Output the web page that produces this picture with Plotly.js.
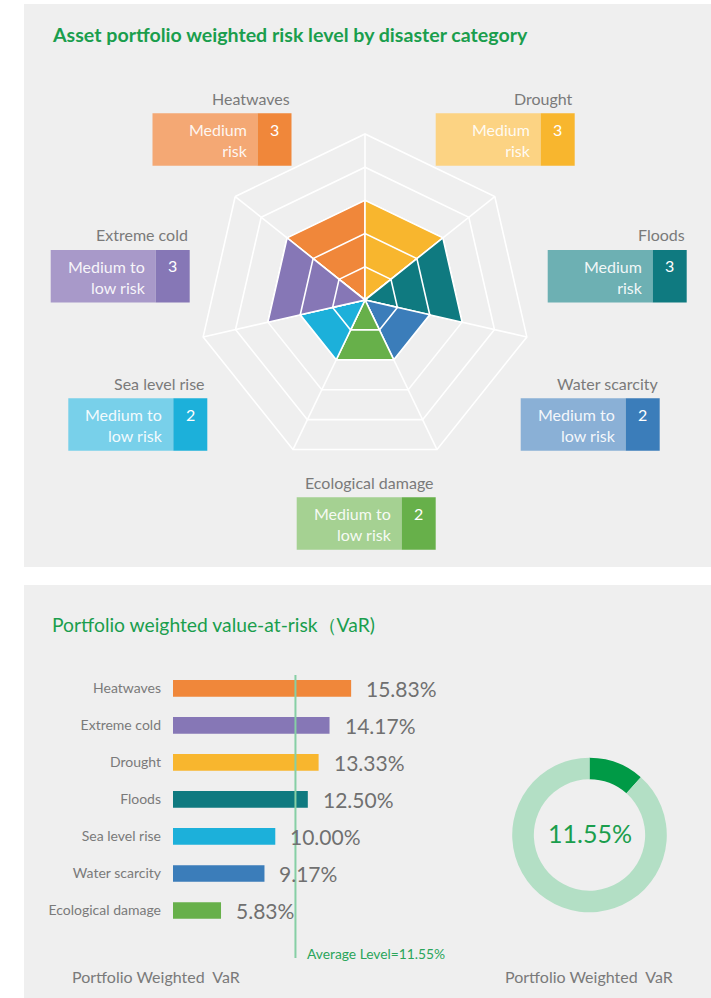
<!DOCTYPE html>
<html><head><meta charset="utf-8">
<script src="https://cdn.plot.ly/plotly-3.0.1.min.js"></script>
<style>html,body{margin:0;padding:0;background:#fff}#chart{width:711px;height:998px}</style>
</head><body><div id="chart"></div>
<script>
// ---------------- data ----------------
const riskCategories = ['Heatwaves','Drought','Floods','Water scarcity','Ecological damage','Sea level rise','Extreme cold'];
const riskLevels = [3,3,3,2,2,2,3];
const riskLabels = ['Medium<br>risk','Medium<br>risk','Medium<br>risk','Medium to<br>low risk','Medium to<br>low risk','Medium to<br>low risk','Medium to<br>low risk'];

const varCategories = ['Heatwaves','Extreme cold','Drought','Floods','Sea level rise','Water scarcity','Ecological damage'];
const varValues = [15.83,14.17,13.33,12.50,10.00,9.17,5.83];
const varLabels = ['15.83%','14.17%','13.33%','12.50%','10.00%','9.17%','5.83%'];

const averageLevel = 11.55;
const portfolioVaR = 11.55;
const portfolioLabel = '11.55%';

// ---------------- styles ----------------
const W = 711, H = 998;
const px = x => x / W;
const py = y => 1 - y / H;
const FONT = 'Lato, "Source Sans Pro", "Noto Sans", sans-serif';
const GREEN = '#1a9e4d';
const GREY = '#7a7a7a';

const darkColor = {
  'Heatwaves':'#f0873a','Drought':'#f8b62e','Floods':'#0f7a80','Water scarcity':'#3b7dba',
  'Ecological damage':'#67b04a','Sea level rise':'#1cb0da','Extreme cold':'#8677b6'
};
const lightColor = {
  'Heatwaves':'#f4a874','Drought':'#fcd383','Floods':'#6db0b3','Water scarcity':'#8ab0d6',
  'Ecological damage':'#a5d192','Sea level rise':'#78d0ea','Extreme cold':'#a899c9'
};
// sector index, clockwise from the top vertex
const sectorOf = {
  'Drought':0,'Floods':1,'Water scarcity':2,'Ecological damage':3,
  'Sea level rise':4,'Extreme cold':5,'Heatwaves':6
};
// label box placement (left, top) in pixels
const boxPos = {
  'Heatwaves':[152.5,113.3],'Drought':[435.7,113.3],'Floods':[547.7,250],
  'Water scarcity':[520.7,398.3],'Ecological damage':[296.7,497.3],
  'Sea level rise':[68.3,398.3],'Extreme cold':[50.7,250]
};
const BOX_W = 139, BOX_LIGHT = 105, BOX_H = 52.5;

const vertices = ['v0','v1','v2','v3','v4','v5','v6'];

// ---------------- traces ----------------
const traces = [];

// radar wedges (stacked unit segments, drawn outer first)
riskCategories.forEach((cat, i) => {
  const s = sectorOf[cat];
  const vA = vertices[s], vB = vertices[(s + 1) % 7];
  for (let k = riskLevels[i]; k >= 1; k--) {
    traces.push({
      type:'scatterpolar', subplot:'polar',
      r:[0,k,k,0], theta:[vA,vA,vB,vA],
      mode:'lines', fill:'toself', fillcolor:darkColor[cat],
      line:{color:'#ffffff', width:1.6},
      hoverinfo:'skip', showlegend:false
    });
  }
});

// VaR bars
traces.push({
  type:'bar', orientation:'h',
  x:varValues, y:varCategories,
  marker:{color:varCategories.map(c => darkColor[c])},
  hoverinfo:'skip', showlegend:false
});

// donut
traces.push({
  type:'pie', values:[portfolioVaR, 100 - portfolioVaR],
  hole:0.72, sort:false, direction:'clockwise', rotation:0,
  marker:{colors:['#009a46','#b3dfc5'], line:{width:0}},
  textinfo:'none', hoverinfo:'skip', showlegend:false,
  domain:{x:[px(512.2), px(666.8)], y:[py(912.3), py(757.7)]}
});

// ---------------- layout ----------------
const shapes = [
  {type:'rect', xref:'paper', yref:'paper', x0:px(24), x1:px(711), y0:py(567), y1:py(4),
   fillcolor:'#efefef', line:{width:0}, layer:'below'},
  {type:'rect', xref:'paper', yref:'paper', x0:px(24), x1:px(711), y0:py(998), y1:py(585),
   fillcolor:'#efefef', line:{width:0}, layer:'below'},
  {type:'line', xref:'x', yref:'paper', x0:averageLevel, x1:averageLevel, y0:py(958), y1:py(675),
   line:{color:'#86cfa5', width:2}}
];

const annotations = [
  {xref:'paper', yref:'paper', x:px(50), y:py(34), xanchor:'left', yanchor:'middle', showarrow:false,
   text:'<b>Asset portfolio weighted risk level by disaster category</b>',
   font:{family:FONT, size:19.6, color:GREEN}},
  {xref:'paper', yref:'paper', x:px(50), y:py(624), xanchor:'left', yanchor:'middle', showarrow:false,
   text:'Portfolio weighted value-at-risk（VaR)',
   font:{family:FONT, size:19.3, color:GREEN}}
];

riskCategories.forEach((cat, i) => {
  const [l, t] = boxPos[cat];
  shapes.push({type:'rect', xref:'paper', yref:'paper', x0:px(l), x1:px(l + BOX_LIGHT),
    y0:py(t + BOX_H), y1:py(t), fillcolor:lightColor[cat], line:{width:0}});
  shapes.push({type:'rect', xref:'paper', yref:'paper', x0:px(l + BOX_LIGHT), x1:px(l + BOX_W),
    y0:py(t + BOX_H), y1:py(t), fillcolor:darkColor[cat], line:{width:0}});
  annotations.push({xref:'paper', yref:'paper', x:px(l + BOX_W), y:py(t - 15), xanchor:'right',
    yanchor:'middle', showarrow:false, text:cat, font:{family:FONT, size:16, color:GREY}});
  annotations.push({xref:'paper', yref:'paper', x:px(l + BOX_LIGHT - 8), y:py(t + 5), xanchor:'right',
    yanchor:'top', align:'right', showarrow:false, text:riskLabels[i],
    font:{family:FONT, size:16, color:'rgba(255,255,255,0.92)'}});
  annotations.push({xref:'paper', yref:'paper', x:px(l + BOX_LIGHT + (BOX_W - BOX_LIGHT) / 2), y:py(t + 16),
    xanchor:'center', yanchor:'middle', showarrow:false, text:String(riskLevels[i]),
    font:{family:FONT, size:16, color:'#ffffff'}});
});

varCategories.forEach((cat, i) => {
  annotations.push({xref:'x', yref:'y', x:varValues[i], y:cat, xanchor:'left', yanchor:'middle',
    xshift:13, showarrow:false, text:varLabels[i], font:{family:FONT, size:21, color:'#707070'}});
});

annotations.push({xref:'x', yref:'paper', x:averageLevel, y:py(953), xanchor:'left', yanchor:'middle',
  xshift:10, showarrow:false, text:'Average Level=' + averageLevel.toFixed(2) + '%',
  font:{family:FONT, size:13.8, color:'#2aa55a'}});
annotations.push({xref:'paper', yref:'paper', x:px(589.5), y:py(833), xanchor:'center', yanchor:'middle',
  showarrow:false, text:portfolioLabel, font:{family:FONT, size:25, color:GREEN}});
annotations.push({xref:'paper', yref:'paper', x:px(70), y:py(976), xanchor:'left', yanchor:'middle',
  showarrow:false, text:'Portfolio Weighted&nbsp; VaR', font:{family:FONT, size:16, color:GREY}});
annotations.push({xref:'paper', yref:'paper', x:px(589), y:py(976), xanchor:'center', yanchor:'middle',
  showarrow:false, text:'Portfolio Weighted&nbsp; VaR', font:{family:FONT, size:16, color:GREY}});

const layout = {
  width:W, height:H, margin:{l:0, r:0, t:0, b:0},
  paper_bgcolor:'#ffffff', plot_bgcolor:'rgba(0,0,0,0)',
  font:{family:FONT, color:GREY},
  showlegend:false,
  polar:{
    domain:{x:[px(199), px(531)], y:[py(466), py(134)]},
    bgcolor:'rgba(0,0,0,0)', gridshape:'linear',
    radialaxis:{range:[0,5], dtick:1, showticklabels:false, ticks:'', showline:false,
      gridcolor:'#ffffff', gridwidth:1.6},
    angularaxis:{type:'category', categoryorder:'array', categoryarray:vertices,
      rotation:90, direction:'clockwise', showticklabels:false, ticks:'',
      gridcolor:'#ffffff', gridwidth:1.6, linecolor:'#ffffff', linewidth:1.6}
  },
  xaxis:{domain:[px(173), px(405.4)], range:[2.14, 20], showgrid:false, zeroline:false,
    showticklabels:false, showline:false, fixedrange:true},
  yaxis:{domain:[py(929), py(669.8)], type:'category', categoryorder:'array',
    categoryarray:varCategories, autorange:'reversed', showgrid:false, zeroline:false,
    showline:false, ticks:'', ticklabelstandoff:11,
    tickfont:{family:FONT, size:14, color:GREY}},
  bargap:0.55,
  shapes:shapes, annotations:annotations
};

Plotly.newPlot('chart', traces, layout, {displayModeBar:false, staticPlot:true});
</script>
</body></html>
